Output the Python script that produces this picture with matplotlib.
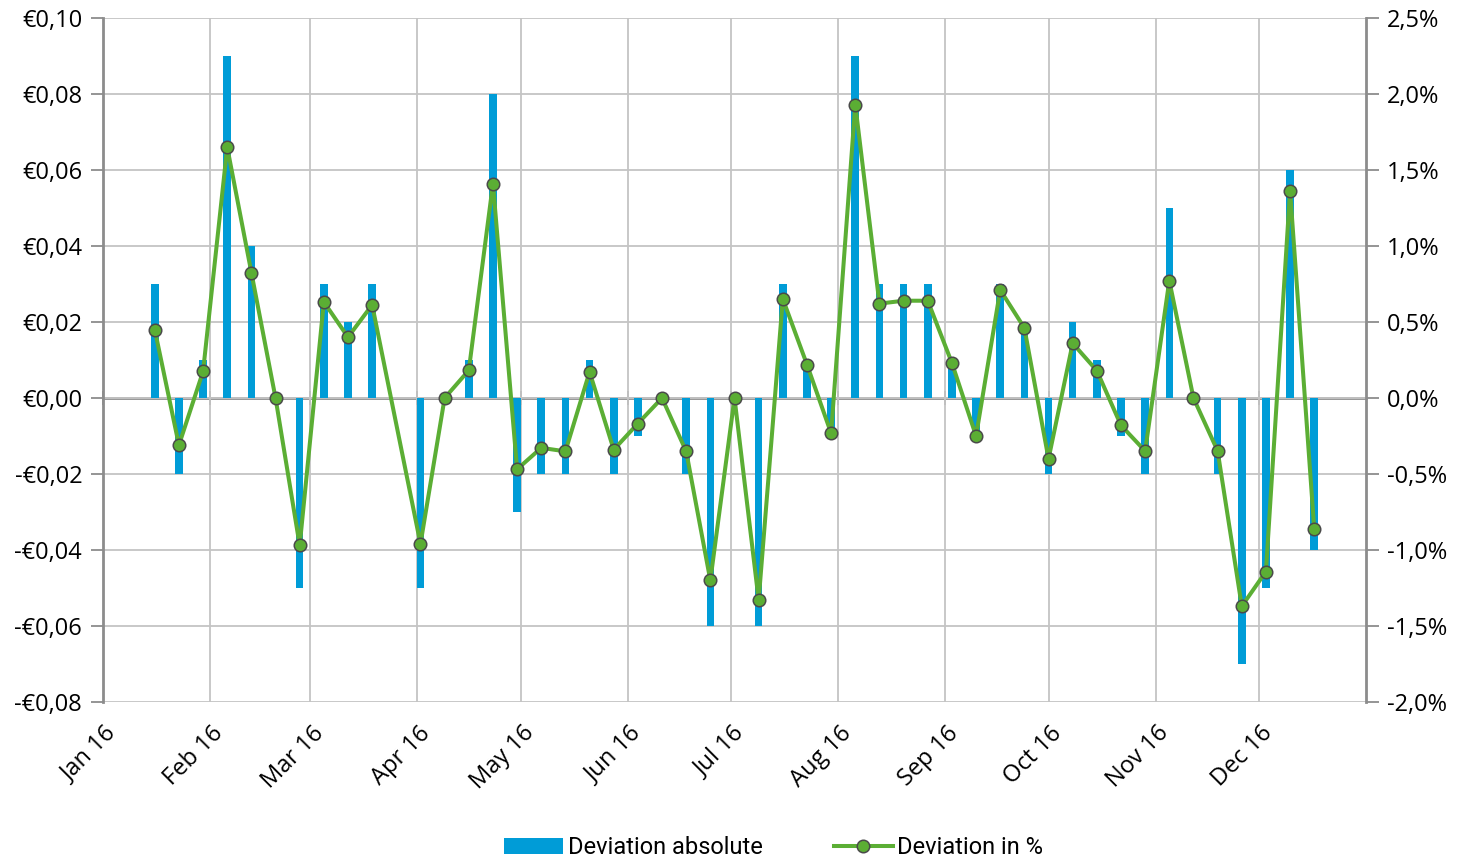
import matplotlib
matplotlib.use("Agg")
import matplotlib.pyplot as plt
import matplotlib.dates as mdates
import matplotlib.transforms as mtransforms
from matplotlib.ticker import FuncFormatter
import pandas as pd

# ---------------- data ----------------
dates = [
    "2016-01-16", "2016-01-23", "2016-01-30",
    "2016-02-06", "2016-02-13", "2016-02-20", "2016-02-27",
    "2016-03-05", "2016-03-12", "2016-03-19",
    "2016-04-02", "2016-04-09", "2016-04-16", "2016-04-23", "2016-04-30",
    "2016-05-07", "2016-05-14", "2016-05-21", "2016-05-28",
    "2016-06-04", "2016-06-11", "2016-06-18", "2016-06-25",
    "2016-07-02", "2016-07-09", "2016-07-16", "2016-07-23", "2016-07-30",
    "2016-08-06", "2016-08-13", "2016-08-20", "2016-08-27",
    "2016-09-03", "2016-09-10", "2016-09-17", "2016-09-24",
    "2016-10-01", "2016-10-08", "2016-10-15", "2016-10-22", "2016-10-29",
    "2016-11-05", "2016-11-12", "2016-11-19", "2016-11-26",
    "2016-12-03", "2016-12-10", "2016-12-17",
]

deviation_abs = [
    0.03, -0.02, 0.01,
    0.09, 0.04, 0.00, -0.05,
    0.03, 0.02, 0.03,
    -0.05, 0.00, 0.01, 0.08, -0.03,
    -0.02, -0.02, 0.01, -0.02,
    -0.01, 0.00, -0.02, -0.06,
    0.00, -0.06, 0.03, 0.01, -0.01,
    0.09, 0.03, 0.03, 0.03,
    0.01, -0.01, 0.03, 0.02,
    -0.02, 0.02, 0.01, -0.01, -0.02,
    0.05, 0.00, -0.02, -0.07,
    -0.05, 0.06, -0.04,
]

deviation_pct = [
    0.45, -0.31, 0.175,
    1.65, 0.825, 0.00, -0.97,
    0.632, 0.40, 0.613,
    -0.96, 0.00, 0.182, 1.41, -0.469,
    -0.328, -0.351, 0.172, -0.34,
    -0.168, 0.00, -0.351, -1.20,
    0.00, -1.33, 0.652, 0.22, -0.232,
    1.93, 0.621, 0.64, 0.64,
    0.231, -0.25, 0.711, 0.461,
    -0.40, 0.36, 0.18, -0.18, -0.349,
    0.772, 0.00, -0.348, -1.37,
    -1.142, 1.364, -0.862,
]

month_starts = ["2016-01-01", "2016-02-01", "2016-03-01", "2016-04-01",
                "2016-05-01", "2016-06-01", "2016-07-01", "2016-08-01",
                "2016-09-01", "2016-10-01", "2016-11-01", "2016-12-01"]
month_labels = ["Jan 16", "Feb 16", "Mar 16", "Apr 16", "May 16", "Jun 16",
                "Jul 16", "Aug 16", "Sep 16", "Oct 16", "Nov 16", "Dec 16"]
x_end = "2017-01-01"

abs_ticks = [-0.08, -0.06, -0.04, -0.02, 0.0, 0.02, 0.04, 0.06, 0.08, 0.10]
pct_ticks = [-2.0, -1.5, -1.0, -0.5, 0.0, 0.5, 1.0, 1.5, 2.0, 2.5]

# ---------------- style ----------------
BAR_C = "#009CD7"
LINE_C = "#5BAE34"
GRID_C = "#C4C4C4"
AXIS_C = "#8C8C8C"
FONT = "Open Sans"
TICK_FS = 17

plt.rcParams["font.family"] = [FONT, "DejaVu Sans"]

x = mdates.date2num(pd.to_datetime(dates))
months = mdates.date2num(pd.to_datetime(month_starts))
xend = mdates.date2num(pd.Timestamp(x_end))

fig = plt.figure(figsize=(14.6, 8.57), dpi=100)
ax = fig.add_axes([103 / 1460, 1 - 702 / 857, (1366 - 103) / 1460, (702 - 18) / 857])
ax2 = ax.twinx()

ax.set_xlim(months[0], xend)
ax.set_ylim(abs_ticks[0], abs_ticks[-1])
ax2.set_ylim(pct_ticks[0], pct_ticks[-1])

# grid
ax.set_yticks(abs_ticks)
ax.set_xticks(months)
ax.grid(True, color=GRID_C, linewidth=1.3)
ax.set_axisbelow(True)

# bars
ax.bar(x, deviation_abs, width=2.2, color=BAR_C, zorder=2,
       label="Deviation absolute")

# zero axis line with month ticks
zero_frac = (0 - abs_ticks[0]) / (abs_ticks[-1] - abs_ticks[0])
sec = ax.secondary_xaxis(zero_frac)
sec.set_xticks(months)
sec.tick_params(direction="inout", length=10, width=1.3, color=AXIS_C,
                labelbottom=False, labeltop=False)
sec.spines["bottom"].set_color(AXIS_C)
sec.spines["bottom"].set_linewidth(2)
sec.spines["top"].set_visible(False)

# line
ax2.plot(x, deviation_pct, color=LINE_C, linewidth=2.9, marker="o",
         markersize=9, markerfacecolor=LINE_C, markeredgecolor="#4A4A4A",
         markeredgewidth=1.1, zorder=5, label="Deviation in %")

# spines
for a in (ax, ax2):
    a.spines["top"].set_visible(False)
    a.spines["bottom"].set_visible(False)
ax.spines["right"].set_visible(False)
ax.spines["left"].set_color(AXIS_C)
ax.spines["left"].set_linewidth(2)
ax2.spines["left"].set_visible(False)
ax2.spines["right"].set_color(AXIS_C)
ax2.spines["right"].set_linewidth(2)

# tick formatting
def eur(v, pos=None):
    s = f"{abs(v):.2f}".replace(".", ",")
    return ("-€" if v < -1e-9 else "€") + s

def pct(v, pos=None):
    s = f"{v:.1f}".replace(".", ",")
    if abs(v) < 1e-9:
        s = "0,0"
    return s + "%"

ax.yaxis.set_major_formatter(FuncFormatter(eur))
ax2.set_yticks(pct_ticks)
ax2.yaxis.set_major_formatter(FuncFormatter(pct))
ax.tick_params(axis="y", direction="out", length=9, width=1.3, color=AXIS_C,
               labelsize=TICK_FS, pad=6, labelcolor="black")
ax2.tick_params(axis="y", direction="out", length=9, width=1.3, color=AXIS_C,
                labelsize=TICK_FS, pad=6, labelcolor="black")

ax.set_xticklabels(month_labels)
ax.tick_params(axis="x", length=0, labelsize=TICK_FS, pad=20)
offset = mtransforms.ScaledTranslation(10 / 100, 0, fig.dpi_scale_trans)
for lbl in ax.get_xticklabels():
    lbl.set_rotation(45)
    lbl.set_ha("right")
    lbl.set_va("center")
    lbl.set_rotation_mode("anchor")
    lbl.set_transform(lbl.get_transform() + offset)

# legend
h1, l1 = ax.get_legend_handles_labels()
h2, l2 = ax2.get_legend_handles_labels()
leg = fig.legend(h1 + h2, l1 + l2, loc="center", bbox_to_anchor=(0.53, 0.011),
                 ncol=2, frameon=False, handlelength=2.5,
                 handleheight=0.65, handletextpad=0.2, columnspacing=3.0,
                 prop={"family": ["Roboto", "DejaVu Sans"], "size": 17})

fig.savefig("out.png", dpi=100)
